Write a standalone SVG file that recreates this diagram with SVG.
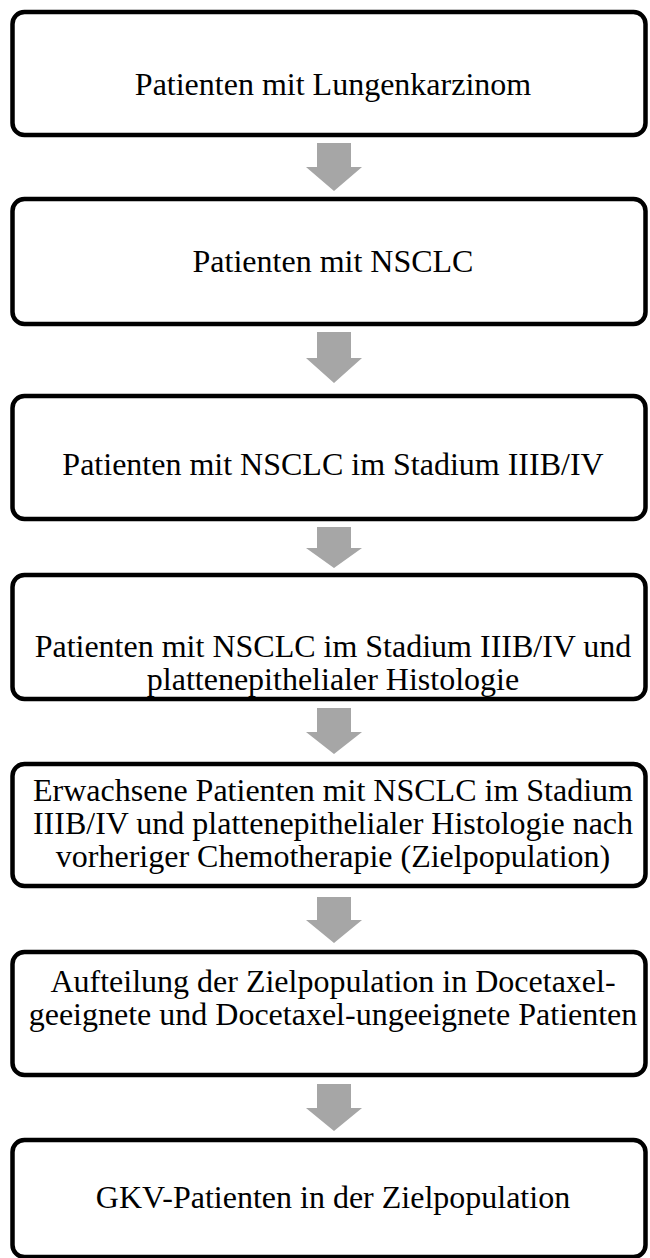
<svg xmlns="http://www.w3.org/2000/svg" width="650" height="1258" viewBox="0 0 650 1258">
  <style>
    .box { fill: #ffffff; stroke: #000000; stroke-width: 4.5; }
    .lbl { font-family: "Liberation Serif", "Times New Roman", serif; font-size: 32px; fill: #000000; text-anchor: middle; }
    .arrow { fill: #a6a6a6; stroke: none; }
  </style>
  <rect x="0" y="0" width="650" height="1258" fill="#ffffff"/>
  <g id="connectors">
    <polygon class="arrow" points="317,143 351,143 351,167 362,167 334,191 306,167 317,167"/>
    <polygon class="arrow" points="317,332 351,332 351,358 362,358 334,383 306,358 317,358"/>
    <polygon class="arrow" points="317,527 351,527 351,548 362,548 334,568 306,548 317,548"/>
    <polygon class="arrow" points="317,708 351,708 351,732 362,732 334,754 306,732 317,732"/>
    <polygon class="arrow" points="317,897 351,897 351,920 362,920 334,943 306,920 317,920"/>
    <polygon class="arrow" points="317,1084 351,1084 351,1108 362,1108 334,1131 306,1108 317,1108"/>
  </g>
  <g id="node1">
    <rect class="box" x="12.5" y="12" width="633" height="123" rx="12" ry="12"/>
    <text class="lbl" x="333" y="95">Patienten mit Lungenkarzinom</text>
  </g>
  <g id="node2">
    <rect class="box" x="12.5" y="199" width="633" height="125" rx="12" ry="12"/>
    <text class="lbl" x="333" y="272">Patienten mit NSCLC</text>
  </g>
  <g id="node3">
    <rect class="box" x="12.5" y="396" width="633" height="123" rx="12" ry="12"/>
    <text class="lbl" x="333" y="475">Patienten mit NSCLC im Stadium IIIB/IV</text>
  </g>
  <g id="node4">
    <rect class="box" x="12.5" y="575" width="633" height="124" rx="12" ry="12"/>
    <text class="lbl" x="333" y="657">Patienten mit NSCLC im Stadium IIIB/IV und</text>
    <text class="lbl" x="333" y="690">plattenepithelialer Histologie</text>
  </g>
  <g id="node5">
    <rect class="box" x="12.5" y="764" width="633" height="122" rx="12" ry="12"/>
    <text class="lbl" x="333" y="801">Erwachsene Patienten mit NSCLC im Stadium</text>
    <text class="lbl" x="333" y="834">IIIB/IV und plattenepithelialer Histologie nach</text>
    <text class="lbl" x="333" y="867">vorheriger Chemotherapie (Zielpopulation)</text>
  </g>
  <g id="node6">
    <rect class="box" x="12.5" y="952" width="633" height="123" rx="12" ry="12"/>
    <text class="lbl" x="333" y="992">Aufteilung der Zielpopulation in Docetaxel-</text>
    <text class="lbl" x="333" y="1025">geeignete und Docetaxel-ungeeignete Patienten</text>
  </g>
  <g id="node7">
    <rect class="box" x="12.5" y="1140" width="633" height="117" rx="12" ry="12"/>
    <text class="lbl" x="333" y="1208">GKV-Patienten in der Zielpopulation</text>
  </g>
</svg>
